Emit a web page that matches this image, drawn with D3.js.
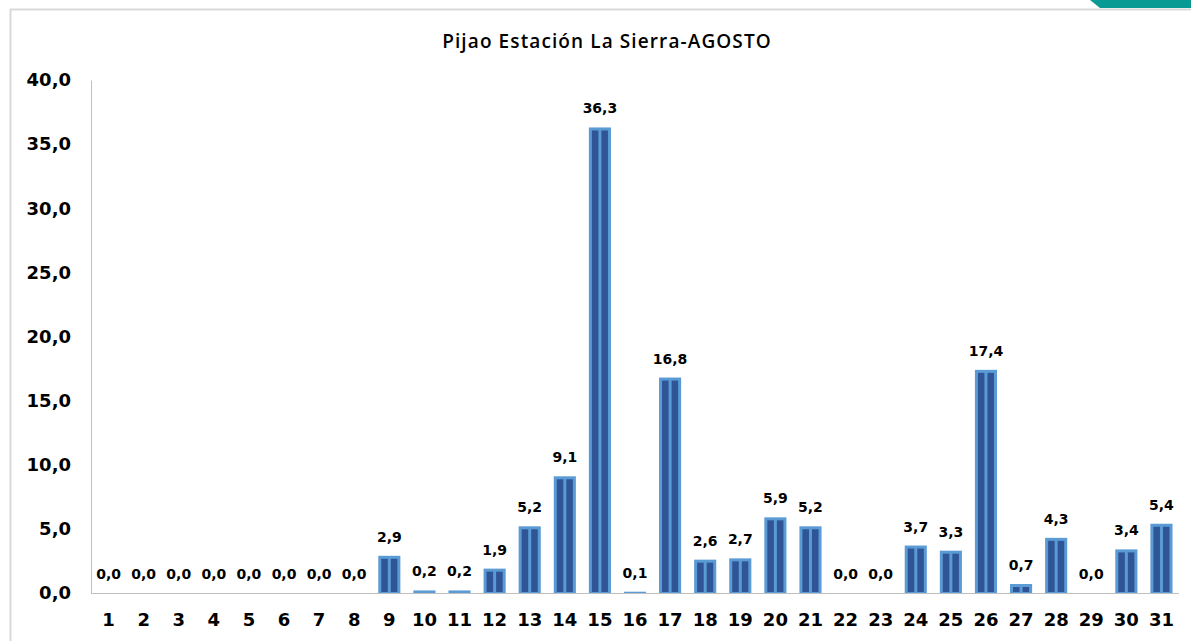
<!DOCTYPE html>
<html><head><meta charset="utf-8">
<script src="https://cdn.jsdelivr.net/npm/d3@7"></script>
<style>body{margin:0;background:#fff}svg{display:block}</style>
</head><body>
<svg id="c" width="1191" height="641"></svg>
<script>
const title = "Pijao Estación La Sierra-AGOSTO";
const days = d3.range(1, 32).map(String);
const values = [0.0,0.0,0.0,0.0,0.0,0.0,0.0,0.0,2.9,0.2,0.2,1.9,5.2,9.1,36.3,0.1,16.8,2.6,2.7,5.9,5.2,0.0,0.0,3.7,3.3,17.4,0.7,4.3,0.0,3.4,5.4];
const yTicks = [0,5,10,15,20,25,30,35,40];

const svg = d3.select("#c");
const W = 1191, H = 641;
const m = {left: 91, right: 1179, top: 80, bottom: 593};
const fmt = v => v.toFixed(1).replace(".", ",");

// frame
svg.append("line").attr("x1",10.5).attr("x2",10.5).attr("y1",9).attr("y2",H).attr("stroke","#d9d9d9").attr("stroke-width",2);
svg.append("line").attr("x1",10).attr("x2",W).attr("y1",9.5).attr("y2",9.5).attr("stroke","#d9d9d9").attr("stroke-width",2);
svg.append("polygon").attr("points",`1090,0 ${W},0 ${W},8 1100,8`).attr("fill","#0a9a94");

const x = d3.scaleBand().domain(days).range([m.left, m.right]).paddingInner(0.37).paddingOuter(0.185);
const y = d3.scaleLinear().domain([0, 40]).range([m.bottom, m.top]);

svg.append("text").attr("x", 607).attr("y", 48).attr("text-anchor","middle")
  .attr("font-family","'Open Sans', sans-serif").attr("font-weight",600).attr("font-size",19)
  .attr("letter-spacing",1.1).attr("fill","#000").text(title);

// axes
const ya = svg.append("g").attr("transform",`translate(${m.left},0)`)
  .call(d3.axisLeft(y).tickValues(yTicks).tickSize(0).tickPadding(20).tickFormat(fmt));
ya.select(".domain").attr("stroke","#bfbfbf");
ya.selectAll("text").attr("font-family","'DejaVu Sans', sans-serif").attr("font-weight","bold").attr("font-size",18).attr("fill","#000");

const xa = svg.append("g").attr("transform",`translate(0,${m.bottom})`)
  .call(d3.axisBottom(x).tickSize(0).tickPadding(20));
xa.select(".domain").attr("stroke","#bfbfbf").attr("d",`M${m.left},0.5H${m.right}`);
xa.selectAll("text").attr("font-family","'DejaVu Sans', sans-serif").attr("font-weight","bold").attr("font-size",18).attr("fill","#000");

// bars
const data = days.map((d,i)=>({d, v: values[i]}));
const g = svg.append("g");
const bw = x.bandwidth();
data.forEach(o => {
  const x0 = x(o.d), yt = y(o.v), h = m.bottom - yt;
  if (h > 0) {
    g.append("rect").attr("x",x0).attr("y",yt).attr("width",bw).attr("height",h).attr("fill","#5b9bd5");
    const inset = 3, gap = 1.5, ih = h - inset - 1;
    if (ih > 0) {
      const cx = x0 + bw/2;
      g.append("rect").attr("x",x0+inset).attr("y",yt+inset).attr("width",cx-gap-(x0+inset)).attr("height",ih).attr("fill","#2f5597");
      g.append("rect").attr("x",cx+gap).attr("y",yt+inset).attr("width",(x0+bw-inset)-(cx+gap)).attr("height",ih).attr("fill","#2f5597");
    }
  }
  g.append("text").attr("x", x0+bw/2).attr("y", yt-14).attr("text-anchor","middle")
    .attr("font-family","'DejaVu Sans', sans-serif").attr("font-weight","bold").attr("font-size",14)
    .attr("fill","#000").text(fmt(o.v));
});
</script>
</body></html>
